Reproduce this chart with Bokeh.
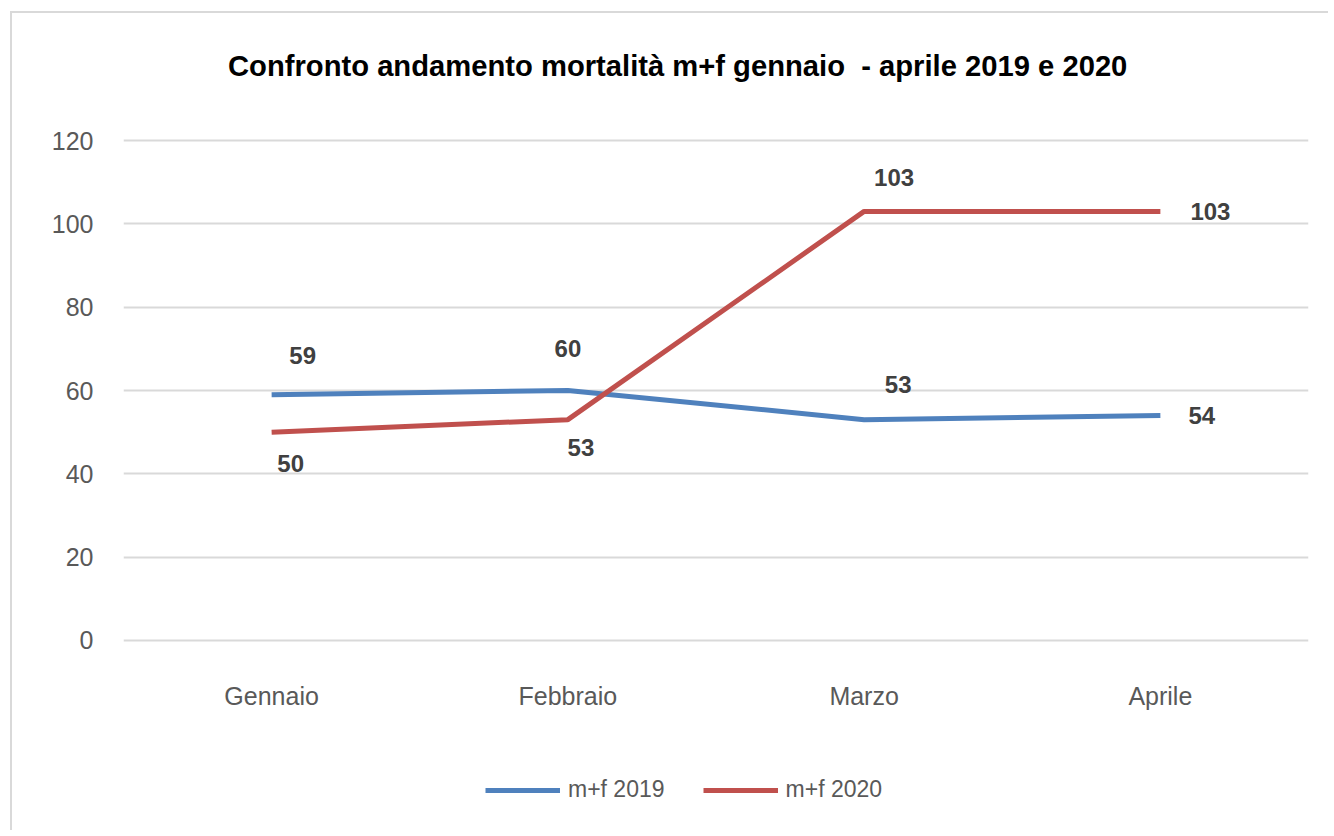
from bokeh.plotting import figure
from bokeh.layouts import column
from bokeh.models import (ColumnDataSource, Legend, LegendItem, FactorRange, FixedTicker, Div)
from bokeh.core.properties import value
from bokeh.embed import file_html
from bokeh.resources import INLINE

months = ["Gennaio", "Febbraio", "Marzo", "Aprile"]
series_names = ["m+f 2019", "m+f 2020"]
values_2019 = [59, 60, 53, 54]
values_2020 = [50, 53, 103, 103]
y_ticks = [0, 20, 40, 60, 80, 100, 120]
title_text = "Confronto andamento mortalità m+f gennaio  - aprile 2019 e 2020"

FONT = "Liberation Sans"
BLUE = "#4f81bd"
RED = "#c0504d"

# ---- title -------------------------------------------------------------
title = Div(text=title_text, width=1000, height=45, margin=(37, 0, 0, 216),
            styles={"font-family": FONT, "font-size": "29.2px", "font-weight": "bold",
                    "color": "#000000", "white-space": "pre", "line-height": "1.15"})

# ---- main chart ----------------------------------------------------------
p = figure(x_range=FactorRange(*months, range_padding=0), y_range=(-0.5, 120.5),
           frame_width=1185, frame_height=504, output_backend="svg", toolbar_location=None,
           min_border_left=111, min_border_right=20, min_border_top=43,
           min_border_bottom=118)
p.margin = 0

p.outline_line_color = None
p.xgrid.grid_line_color = None
p.ygrid.grid_line_color = "#d9d9d9"
p.ygrid.grid_line_width = 2
p.yaxis.ticker = FixedTicker(ticks=y_ticks)
for ax in (p.xaxis, p.yaxis):
    ax.axis_line_color = None
    ax.major_tick_line_color = None
    ax.minor_tick_line_color = None
    ax.major_label_text_font = FONT
    ax.major_label_text_font_size = "25px"
    ax.major_label_text_color = "#595959"
p.yaxis.major_label_standoff = 24
p.xaxis.major_label_standoff = 33

src = ColumnDataSource(dict(m=months, a=values_2019, b=values_2020))
p.line("m", "a", source=src, line_color=BLUE, line_width=5, line_join="round")
p.line("m", "b", source=src, line_color=RED, line_width=5, line_join="round")

# data labels (pixel offsets from each point)
lab_a = ColumnDataSource(dict(m=months, v=values_2019, t=[str(v) for v in values_2019],
                              dx=[31, 0, 34, 28], dy=[-39, -42, -35, 0],
                              al=["center", "center", "center", "left"]))
lab_b = ColumnDataSource(dict(m=months, v=values_2020, t=[str(v) for v in values_2020],
                              dx=[19, 13, 30, 30], dy=[31, 28, -34, 0],
                              al=["center", "center", "center", "left"]))
for s in (lab_a, lab_b):
    p.text("m", "v", text="t", source=s, x_offset="dx", y_offset="dy", text_align="al",
           text_baseline="middle", text_font=value(FONT), text_font_size="24px",
           text_font_style="bold", text_color="#404040")

# ---- legend strip (series drawn out of view; only the legend shows) -------
pl = figure(width=1316, height=70, x_range=FactorRange(*months), y_range=(1000, 1001),
            min_border=0, output_backend="svg", toolbar_location=None)
pl.margin = 0
pl.axis.visible = False
pl.xgrid.visible = False
pl.ygrid.visible = False
pl.outline_line_color = None
g1 = pl.line("m", "a", source=src, line_color=BLUE, line_width=5)
g2 = pl.line("m", "b", source=src, line_color=RED, line_width=5)
legend = Legend(items=[LegendItem(label=series_names[0], renderers=[g1]),
                       LegendItem(label=series_names[1], renderers=[g2])],
                orientation="horizontal", location=(362, 27),
                border_line_color=None, background_fill_alpha=0,
                label_text_font=FONT, label_text_font_size="23px",
                label_text_color="#595959", glyph_width=75, spacing=38,
                label_standoff=8, margin=0, padding=10)
pl.add_layout(legend, "center")

layout = column(title, p, pl, spacing=0)
layout.margin = (11, 0, 0, 10)
layout.styles = {"border-left": "2px solid #d9d9d9", "border-top": "2px solid #d9d9d9",
                 "background-color": "#ffffff"}

open("out.html", "w").write(file_html(layout, INLINE))
